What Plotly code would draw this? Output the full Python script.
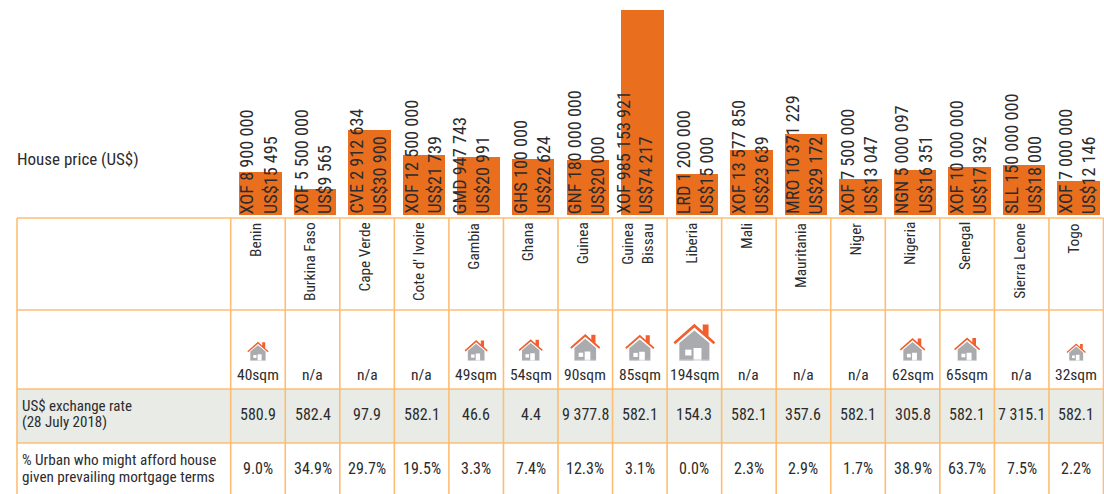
import plotly.graph_objects as go

countries = ["Benin", "Burkina Faso", "Cape Verde", "Cote d' Ivoire", "Gambia", "Ghana", "Guinea",
             "Guinea<br>Bissau", "Liberia", "Mali", "Mauritania", "Niger", "Nigeria", "Senegal",
             "Sierra Leone", "Togo"]
local_price = ["XOF 8 900 000", "XOF 5 500 000", "CVE 2 912 634", "XOF 12 500 000", "GMD 947 743",
               "GHS 100 000", "GNF 180 000 000", "XOF 985 153 921", "LRD 1 200 000", "XOF 13 577 850",
               "MRO 10 371 229", "XOF 7 500 000", "NGN 5 000 097", "XOF 10 000 000", "SLL 150 000 000",
               "XOF 7 000 000"]
usd_label = ["US$15 495", "US$9 565", "US$30 900", "US$21 739", "US$20 991", "US$22 624", "US$20 000",
             "US$74 217", "US$15 000", "US$23 639", "US$29 172", "US$13 047", "US$16 351", "US$17 392",
             "US$18 000", "US$12 146"]
# bar lengths as drawn in the picture (Ghana's bar is drawn shorter than its label)
bar_values = [15495, 9565, 30900, 21739, 20991, 20300, 20000, 74217, 15000, 23639, 29172, 13047, 16351,
              17392, 18000, 12146]
sqm = [40, None, None, None, 49, 54, 90, 85, 194, None, None, None, 62, 65, None, 32]
exchange_rate = ["580.9", "582.4", "97.9", "582.1", "46.6", "4.4", "9 377.8", "582.1", "154.3", "582.1",
                 "357.6", "582.1", "305.8", "582.1", "7 315.1", "582.1"]
urban_afford = ["9.0%", "34.9%", "29.7%", "19.5%", "3.3%", "7.4%", "12.3%", "3.1%", "0.0%", "2.3%", "2.9%",
                "1.7%", "38.9%", "63.7%", "7.5%", "2.2%"]

W, H = 1104, 494
FONT = "Liberation Sans Narrow, Roboto Condensed, Roboto, sans-serif"
TXT = "#2c2c2e"
GRID = "#FDBE74"
col0, colw = 230.7, 54.55
BASE, TOP = 215, 10
ymax = max(bar_values)
upx = ymax / (BASE - TOP)
idx = list(range(len(countries)))
c0 = col0 + colw / 2


def fx(px):
    return px / W


def fy(py):
    return 1 - py / H


fig = go.Figure()
bw = 42.5 / colw
fig.add_trace(go.Bar(x=idx, y=bar_values, width=bw, offset=-bw / 2 + 2.5 / colw,
                     marker=dict(color="#E96F1F", line=dict(width=0)), hoverinfo="skip"))

shapes = []
shapes.append(dict(type="rect", xref="paper", yref="paper", x0=fx(17), x1=fx(col0 + 16 * colw), y0=fy(389),
                   y1=fy(443), fillcolor="#E8EBE6", line=dict(width=0), layer="below"))
for py in [218, 310, 389, 443]:
    shapes.append(dict(type="line", xref="paper", yref="paper", x0=fx(17), x1=fx(col0 + 16 * colw), y0=fy(py),
                       y1=fy(py), line=dict(color=GRID, width=1.6)))
for px in [17] + [col0 + k * colw for k in range(17)]:
    shapes.append(dict(type="line", xref="paper", yref="paper", x0=fx(px), x1=fx(px), y0=fy(218), y1=0,
                       line=dict(color=GRID, width=1.6)))


def poly(pts, w):
    return "M" + " L".join(f"{x * w:.2f},{y * w:.2f}" for x, y in pts) + " Z"


body = [(-.36, 0), (-.36, .42), (0, .72), (.36, .42), (.36, 0), (.17, 0), (.17, .30), (-.02, .30), (-.02, 0)]
roof = [(-.5, .44), (0, .88), (.2, .70), (.2, .86), (.34, .86), (.34, .58), (.5, .44), (.46, .39), (0, .79),
        (-.46, .39)]
window = [(-.22, .12), (-.22, .26), (-.07, .26), (-.07, .12)]
for i, s in zip(idx, sqm):
    if s is None:
        continue
    w = 4.38 * s ** 0.428
    for pts, colr in [(body, "#A9ABAE"), (roof, "#F15F2E"), (window, "#FFFFFF")]:
        shapes.append(dict(type="path", xref="x", yref="paper", xsizemode="pixel", ysizemode="pixel",
                           xanchor=i, yanchor=fy(360.5), path=poly(pts, w), fillcolor=colr, line=dict(width=0)))
    shapes.append(dict(type="path", xref="x", yref="paper", xsizemode="pixel", ysizemode="pixel",
                       xanchor=i, yanchor=fy(360.5), path=poly([(-.36, 0), (-.36, .025), (.36, .025), (.36, 0)], w),
                       fillcolor="#C9CACC", line=dict(width=0)))

ann = []


def text(t, xp=None, i=None, shift=0, yp=0, size=14, xanchor="center", yanchor="middle", angle=0, align="center"):
    d = dict(text=t, yref="paper", y=fy(yp), showarrow=False, xanchor=xanchor, yanchor=yanchor, textangle=angle,
             font=dict(family=FONT, size=size, color=TXT), align=align, borderpad=0, borderwidth=0)
    if i is None:
        d.update(xref="paper", x=fx(xp))
    else:
        d.update(xref="x", x=i, xshift=shift)
    ann.append(d)


text("House price (US$)", xp=17, yp=159, size=17, xanchor="left")
text("US$ exchange rate", xp=21.5, yp=406, size=15, xanchor="left", align="left")
text("(28 July 2018)", xp=21.5, yp=422, size=15, xanchor="left", align="left")
text("% Urban who might afford house", xp=21.5, yp=459.5, size=15.2, xanchor="left", align="left")
text("given prevailing mortgage terms", xp=21.5, yp=477, size=15.2, xanchor="left", align="left")
for i in idx:
    narrow = countries[i] in ("Gambia", "Guinea<br>Bissau")
    text(local_price[i], i=i, shift=-16.5 if narrow else -11, yp=214, size=18.2, yanchor="bottom", angle=-90)
    text(usd_label[i], i=i, shift=5.5 if narrow else 12, yp=214, size=18.2, yanchor="bottom", angle=-90)
    text(countries[i], i=i, shift=-2.5, yp=222.5, size=15.4, yanchor="top", angle=-90)
    lab = "n/a" if sqm[i] is None else f"{sqm[i]}sqm"
    text(lab, i=i, yp=375, size=15.5)
    text(exchange_rate[i], i=i, yp=414, size=16)
    text(urban_afford[i], i=i, yp=468, size=16)

fig.update_layout(
    width=W, height=H, margin=dict(l=0, r=0, t=0, b=0), showlegend=False,
    paper_bgcolor="white", plot_bgcolor="rgba(0,0,0,0)", bargap=0,
    xaxis=dict(visible=False, range=[(0 - c0) / colw, (W - c0) / colw]),
    yaxis=dict(visible=False, range=[(BASE - H) * upx, BASE * upx]),
    shapes=shapes, annotations=ann,
)
fig.write_html("out.html", config={"displayModeBar": False},
               post_script="document.body.style.margin='0';document.body.style.overflow='hidden';")
